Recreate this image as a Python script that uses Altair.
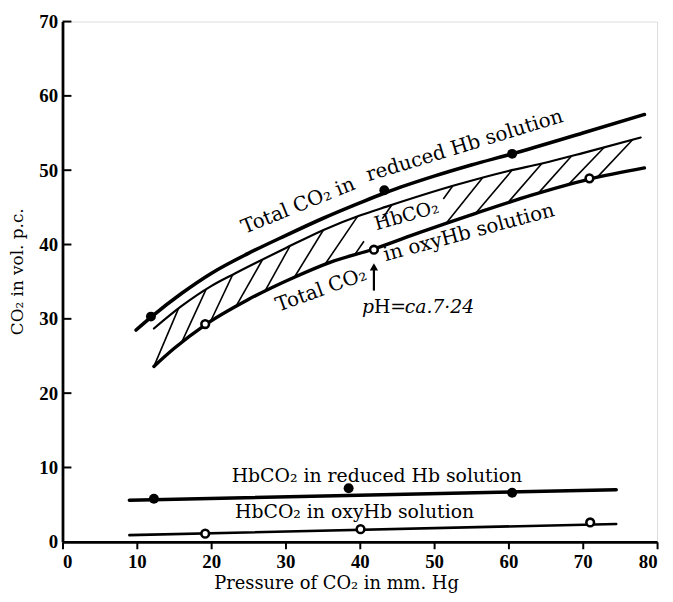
import altair as alt
import numpy as np
import pandas as pd

# ---------------- data ----------------
# Total CO2 in reduced Hb solution (upper thick curve)
red_total_x = [9.9, 12.0, 16.0, 20.0, 25.0, 30.0, 35.0, 40.0, 43.5, 50.0, 55.0, 60.5, 70.0, 78.3]
red_total_y = [28.5, 30.3, 33.4, 36.1, 38.8, 41.2, 43.5, 45.6, 47.0, 49.2, 50.7, 52.2, 55.0, 57.5]
red_total_pts_x = [11.9, 43.3, 60.5]
red_total_pts_y = [30.3, 47.3, 52.2]

# upper edge of the hatched HbCO2 band
band_top_x = [12.3, 16.0, 20.0, 23.2, 30.0, 35.2, 40.0, 43.6, 52.9, 60.0, 64.5, 70.0, 77.8]
band_top_y = [28.7, 31.7, 34.4, 36.1, 39.5, 42.0, 43.9, 45.1, 48.0, 49.9, 50.9, 52.3, 54.4]

# Total CO2 in oxyHb solution (lower edge of band)
oxy_total_x = [12.3, 15.0, 19.2, 25.0, 31.2, 36.0, 41.9, 48.0, 55.6, 63.0, 70.9, 78.3]
oxy_total_y = [23.6, 26.0, 29.2, 32.6, 35.6, 37.6, 39.4, 41.6, 44.2, 46.6, 48.8, 50.3]
oxy_total_pts_x = [19.2, 41.9, 70.9]
oxy_total_pts_y = [29.3, 39.3, 48.9]

# hatching of the band: foot on lower edge, head on upper edge
hatch_low_x = [12.3, 16.0, 19.9, 23.3, 27.2, 31.2, 35.3, 51.6, 55.6, 59.9, 64.0, 68.0, 71.9]
hatch_high_x = [15.6, 19.3, 22.9, 26.9, 30.6, 35.1, 39.7, 56.5, 60.5, 64.5, 68.5, 72.9, 76.7]
stub_low_x = [39.3]
stub_high_x = [44.3, 52.5]

# HbCO2 in reduced Hb solution
red_hb_x = [9.0, 74.5]
red_hb_y = [5.6, 7.0]
red_hb_pts_x = [12.3, 38.5, 60.5]
red_hb_pts_y = [5.8, 7.2, 6.6]

# HbCO2 in oxyHb solution
oxy_hb_x = [9.0, 74.5]
oxy_hb_y = [0.9, 2.4]
oxy_hb_pts_x = [19.2, 40.1, 71.0]
oxy_hb_pts_y = [1.1, 1.7, 2.6]

x_ticks = [0, 10, 20, 30, 40, 50, 60, 70, 80]
y_ticks = [0, 10, 20, 30, 40, 50, 60, 70]

# ---------------- chart ----------------
SERIF = "DejaVu Serif"
xs = alt.Scale(domain=[0, 80], nice=False, zero=False)
ys = alt.Scale(domain=[0, 70], nice=False, zero=False)


def line(xv, yv, width, interp="monotone"):
    df = pd.DataFrame({"x": xv, "y": yv, "o": range(len(xv))})
    return alt.Chart(df).mark_line(color="black", strokeWidth=width, interpolate=interp,
                                   strokeCap="round").encode(
        x=alt.X("x:Q", scale=xs), y=alt.Y("y:Q", scale=ys), order="o:Q")


def dots(xv, yv, filled):
    df = pd.DataFrame({"x": xv, "y": yv})
    if filled:
        m = alt.Chart(df).mark_point(shape="circle", filled=True, color="black", size=100, opacity=1)
    else:
        m = alt.Chart(df).mark_point(shape="circle", filled=False, fill="white", fillOpacity=1,
                                     stroke="black", strokeWidth=2.6, size=60, opacity=1)
    return m.encode(x=alt.X("x:Q", scale=xs), y=alt.Y("y:Q", scale=ys))


def label(txt, x, y, angle, size=19, style="normal", align="center", dx=0):
    return alt.Chart(pd.DataFrame({"t": [txt]})).mark_text(
        font=SERIF, fontSize=size, fontStyle=style, angle=angle, align=align,
        baseline="middle", color="black", dx=dx).encode(
        x=alt.datum(x, scale=xs), y=alt.datum(y, scale=ys), text="t:N")


# axes carrier
axis_df = pd.DataFrame({"x": [0, 80], "y": [0, 70]})
base = alt.Chart(axis_df).mark_point(opacity=0).encode(
    x=alt.X("x:Q", scale=xs, title="Pressure of CO₂ in mm. Hg",
            axis=alt.Axis(values=x_ticks, grid=False, domainColor="black", domainWidth=2.8,
                          tickColor="black", tickWidth=2, tickSize=7,
                          labelFont="Liberation Serif", labelFontWeight="bold", labelFontSize=19,
                          labelColor="black", labelPadding=4,
                          titleFont=SERIF, titleFontSize=18, titleFontWeight="normal",
                          titleColor="black", titleX=276, titleY=42, titleBaseline="middle",
                          titleAlign="center")),
    y=alt.Y("y:Q", scale=ys, title="CO₂ in vol. p.c.",
            axis=alt.Axis(values=y_ticks, grid=False, domainColor="black", domainWidth=2.8,
                          ticks=False, labelFont="Liberation Serif", labelFontWeight="bold",
                          labelFontSize=19, labelColor="black", labelPadding=5,
                          titleFont=SERIF, titleFontSize=17, titleFontWeight="normal",
                          titleColor="black", titleX=-45, titleY=252, titleAngle=270,
                          titleAlign="center", titleBaseline="middle")),
)

ytick_rules = alt.Chart(pd.DataFrame({"v": y_ticks[1:]})).mark_rule(
    color="black", strokeWidth=2).encode(
    y=alt.Y("v:Q", scale=ys), x=alt.value(0), x2=alt.value(9))

# hatch segments
hl = np.array(hatch_low_x)
hh = np.array(hatch_high_x)
hatch_df = pd.DataFrame({
    "x": hl, "y": np.interp(hl, oxy_total_x, oxy_total_y),
    "x2": hh, "y2": np.interp(hh, band_top_x, band_top_y)})
sl = np.array(stub_low_x)
sh = np.array(stub_high_x)
frac, ddx = 0.28, 4.5
stub_low_y = np.interp(sl, oxy_total_x, oxy_total_y)
stub_low_top = np.interp(sl + ddx, band_top_x, band_top_y)
stub_high_y = np.interp(sh, band_top_x, band_top_y)
stub_high_bot = np.interp(sh - ddx, oxy_total_x, oxy_total_y)
stub_df = pd.DataFrame({
    "x": np.concatenate([sl, sh]),
    "y": np.concatenate([stub_low_y, stub_high_y]),
    "x2": np.concatenate([sl + frac * ddx, sh - frac * ddx]),
    "y2": np.concatenate([stub_low_y + frac * (stub_low_top - stub_low_y),
                          stub_high_y - frac * (stub_high_y - stub_high_bot)])})
hatch = alt.Chart(pd.concat([hatch_df, stub_df])).mark_rule(color="black", strokeWidth=1.6).encode(
    x=alt.X("x:Q", scale=xs), y=alt.Y("y:Q", scale=ys), x2="x2:Q", y2="y2:Q")

# arrow to pH point
arrow_shaft = alt.Chart(pd.DataFrame({"x": [41.9], "y": [33.8], "y2": [36.6]})).mark_rule(
    color="black", strokeWidth=2.2).encode(
    x=alt.X("x:Q", scale=xs), y=alt.Y("y:Q", scale=ys), y2="y2:Q")
arrow_head = alt.Chart(pd.DataFrame({"x": [41.9], "y": [37.0]})).mark_point(
    shape="triangle-up", filled=True, color="black", size=70, opacity=1).encode(
    x=alt.X("x:Q", scale=xs), y=alt.Y("y:Q", scale=ys))

layers = [
    base,
    ytick_rules,
    hatch,
    line(red_total_x, red_total_y, 3.6),
    line(band_top_x, band_top_y, 2.2),
    line(oxy_total_x, oxy_total_y, 3.4),
    line(red_hb_x, red_hb_y, 3.6, "linear"),
    line(oxy_hb_x, oxy_hb_y, 2.6, "linear"),
    dots(red_total_pts_x, red_total_pts_y, True),
    dots(red_hb_pts_x, red_hb_pts_y, True),
    dots(oxy_total_pts_x, oxy_total_pts_y, False),
    dots(oxy_hb_pts_x, oxy_hb_pts_y, False),
    arrow_shaft, arrow_head,
    label("Total CO₂ in", 31.7, 45.2, 338, 20),
    label("reduced Hb solution", 54.1, 53.3, 343, 20),
    label("HbCO₂", 46.3, 43.9, 344, 19),
    label("Total CO₂", 34.8, 33.9, 340, 20),
    label("in oxyHb solution", 54.7, 41.6, 345, 20),
    label("p", 40.3, 31.6, 0, 19, "italic", "left", 0),
    label("H=", 40.3, 31.6, 0, 19, "normal", "left", 12),
    label("ca.7·24", 40.3, 31.6, 0, 19, "italic", "left", 43),
    label("HbCO₂ in reduced Hb solution", 42.3, 8.9, 0),
    label("HbCO₂ in oxyHb solution", 39.3, 4.0, 0),
]

chart = alt.layer(*layers).properties(
    width=600, height=525,
    autosize=alt.AutoSizeParams(type="none"),
    padding={"left": 55, "top": 11, "right": 8, "bottom": 50},
).configure_view(stroke=None).configure(background="white")

chart.save("out.html", embed_options={"renderer": "svg", "actions": False})
